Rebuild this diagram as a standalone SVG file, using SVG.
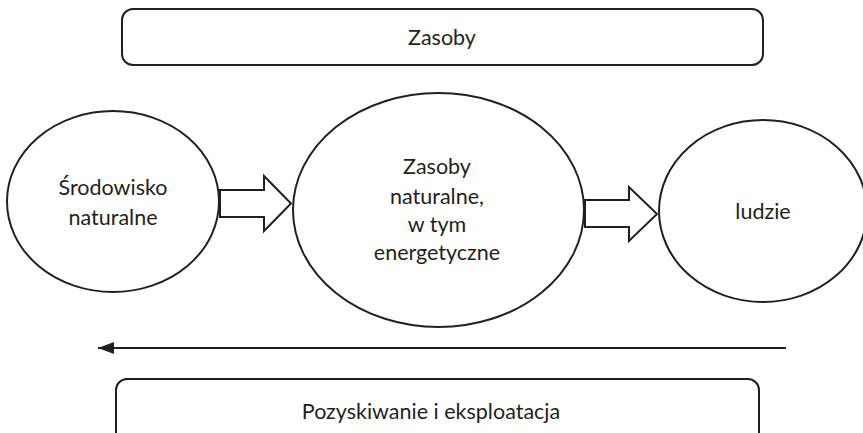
<svg xmlns="http://www.w3.org/2000/svg" width="863" height="433" viewBox="0 0 863 433">
  <style>
    .shape { fill: #ffffff; stroke: #231f20; stroke-width: 2; }
    .label { font-family: Lato, "Open Sans", sans-serif; font-size: 21.5px; fill: #231f20; text-anchor: middle; }
    .link { stroke: #231f20; stroke-width: 2; fill: none; }
  </style>
  <defs>
    <marker id="head" viewBox="0 0 16 12" refX="16" refY="6" markerWidth="16" markerHeight="12" markerUnits="userSpaceOnUse" orient="auto">
      <path d="M0,0 L16,6 L0,12 Z" fill="#231f20"/>
    </marker>
  </defs>

  <g id="zasoby">
    <rect class="shape" x="122" y="9" width="641" height="56" rx="11"/>
    <text class="label" x="442" y="45">Zasoby</text>
  </g>

  <g id="srodowisko">
    <ellipse class="shape" cx="113" cy="201.5" rx="106" ry="90.5"/>
    <text class="label" x="113" y="195">Środowisko</text>
    <text class="label" x="113" y="225">naturalne</text>
  </g>

  <g id="zasoby-naturalne">
    <ellipse class="shape" cx="438.5" cy="210" rx="145.5" ry="117"/>
    <text class="label" x="437" y="174">Zasoby</text>
    <text class="label" x="437" y="204">naturalne,</text>
    <text class="label" x="437" y="232">w tym</text>
    <text class="label" x="437" y="260">energetyczne</text>
  </g>

  <g id="ludzie">
    <ellipse class="shape" cx="763" cy="211" rx="104" ry="91"/>
    <text class="label" x="763" y="219">ludzie</text>
  </g>

  <g id="pozyskiwanie">
    <rect class="shape" x="116" y="379" width="643" height="80" rx="11"/>
    <text class="label" x="431" y="419">Pozyskiwanie i eksploatacja</text>
  </g>

  <g id="connectors">
    <path class="shape" d="M220,190 L264,190 L264,176 L291,203.5 L264,231 L264,217 L220,217 Z"/>
    <path class="shape" d="M585,200 L629,200 L629,187 L657,214 L629,241 L629,227 L585,227 Z"/>
    <line class="link" x1="786" y1="348" x2="98" y2="348" marker-end="url(#head)"/>
  </g>
</svg>
